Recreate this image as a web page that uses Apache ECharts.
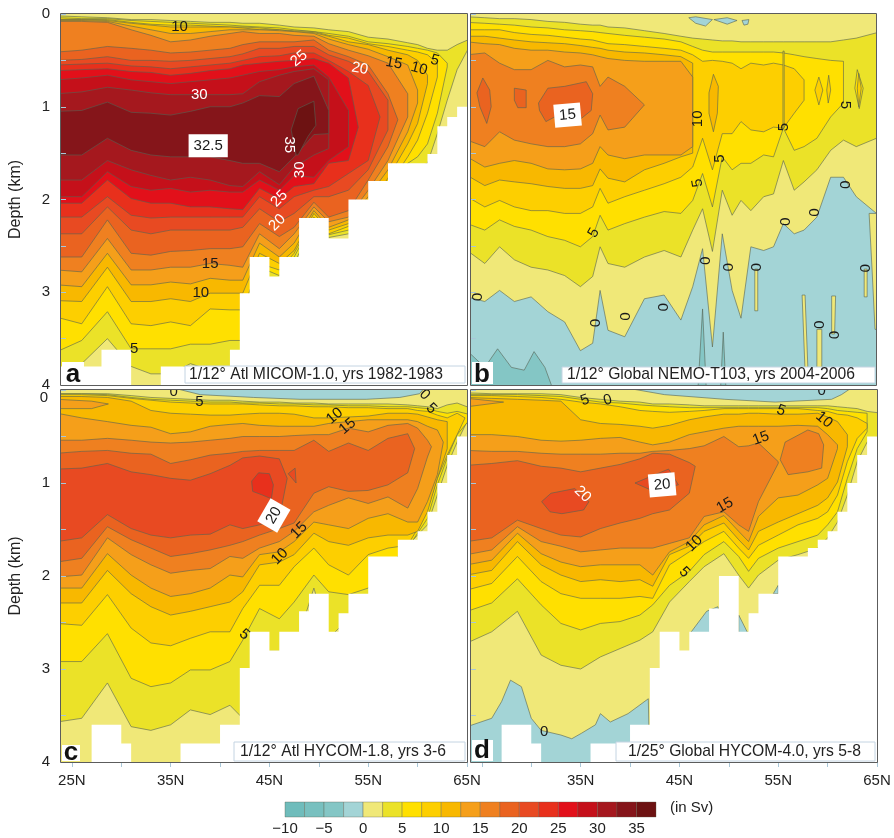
<!DOCTYPE html>
<html><head><meta charset="utf-8">
<style>html,body{margin:0;padding:0;background:#fff}#c{width:894px;height:838px;filter:blur(.35px)}</style>
<script src="https://cdn.jsdelivr.net/npm/echarts@6/dist/echarts.min.js"></script>
</head><body><div id="c"></div>
<script>
// Colour scale steps (Sv)
const barValues=[-10,-7.5,-5,-2.5,0,2.5,5,7.5,10,12.5,15,17.5,20,22.5,25,27.5,30,32.5,35];
const palette=['#6fbcbb','#78c0bf','#84c6c5','#a3d4d6','#f0e878','#ebe228','#ffe000','#fdcf00','#f8b800','#f59f1a','#ef8020','#ea6320','#e84a22','#e8301c','#e2101a','#c5101a','#a5181e','#85151a','#6d1212'];
const latTicks=[25,30,35,40,45,50,55,60,65];
const latLabelsLeft=[25,35,45,55,65];
const latLabelsRight=[35,45,55,65];

// Contours: [level, upper depth per latitude, lower depth per latitude, optional tip [lat,depth]]
const latsA=[23.5,26,28.6,31,33,35,37,39,41,42.3,44,46,47.5,49.5,51,53,55,57,59,60,61,62,63,64,65.5];
const contoursA=[
[2.5,[.02,.03,.04,.06,.06,.07,.08,.09,.09,.10,.10,.12,.14,.15,.17,.19,.25,.27,.31,.33,.37,.39,.39,.33,.26],[3.84,3.77,3.50,3.80,3.88,3.88,3.77,3.84,3.88,3.88,2.83,2.9,2.69,2.26,2.41,2.37,2.30,2.04,1.72,1.65,1.61,1.29,.93,.6,.30]],
[5,[.04,.05,.05,.07,.08,.09,.10,.11,.12,.13,.14,.15,.17,.19,.21,.24,.30,.32,.35,.37,.39,.42,.53],[3.64,3.52,3.21,3.61,3.61,3.61,3.56,3.56,3.52,3.52,2.73,2.82,2.62,2.22,2.38,2.33,2.22,1.97,1.61,1.54,1.40,1.07,.57]],
[7.5,[.06,.06,.06,.09,.11,.12,.12,.13,.14,.14,.15,.17,.18,.19,.23,.26,.32,.35,.39,.41,.44,.53],[3.27,3.34,2.94,3.34,3.36,3.32,3.36,3.18,3.19,3.19,2.69,2.76,2.58,2.19,2.37,2.29,2.15,1.86,1.54,1.36,1.07,.68]],
[10,[.06,.06,.07,.10,.12,.14,.14,.14,.14,.15,.17,.17,.19,.20,.24,.30,.33,.39,.44,.50,.66],[3.09,3.10,2.73,3.10,3.10,3.07,3.10,3.01,3.01,3.01,2.58,2.69,2.55,2.15,2.33,2.26,2.08,1.77,1.40,1.18,.75]],
[12.5,[.07,.07,.08,.13,.17,.21,.21,.19,.17,.17,.17,.18,.19,.21,.27,.33,.38,.46,.55,.82],[2.92,2.94,2.58,2.92,2.92,2.89,2.91,2.85,2.87,2.87,2.47,2.62,2.47,2.12,2.30,2.22,1.97,1.68,1.27,.96]],
[15,[.08,.08,.09,.17,.23,.30,.28,.24,.21,.19,.21,.21,.23,.24,.32,.39,.45,.53,.86],[2.76,2.78,2.42,2.76,2.76,2.73,2.73,2.69,2.71,2.73,2.37,2.53,2.37,2.08,2.24,2.19,1.90,1.58,1.11]],
[17.5,[.41,.39,.35,.37,.39,.42,.41,.39,.37,.33,.30,.30,.30,.28,.39,.46,.55,.86],[2.62,2.62,2.22,2.58,2.60,2.56,2.55,2.53,2.53,2.51,2.26,2.40,2.30,2.03,2.19,2.12,1.79,1.43],[58,1.14]],
[20,[.50,.49,.46,.50,.50,.51,.50,.48,.46,.43,.37,.37,.35,.35,.44,.51,.62,.93],[2.37,2.37,2.08,2.33,2.37,2.33,2.33,2.33,2.33,2.30,2.10,2.24,2.15,1.97,1.97,1.90,1.68,1.25]],
[22.5,[.55,.54,.53,.56,.57,.59,.57,.55,.53,.50,.46,.45,.42,.42,.50,.62,.77],[2.19,2.19,1.97,2.17,2.20,2.19,2.19,2.19,2.19,2.19,1.97,2.10,1.97,1.90,1.86,1.72,1.58],[56.2,1.11]],
[25,[.61,.60,.59,.62,.63,.66,.64,.61,.59,.55,.53,.51,.50,.48,.53,.69],[2.04,2.04,1.79,1.99,2.04,2.04,2.08,2.08,2.10,2.11,1.88,1.99,1.86,1.83,1.61,1.58],[54,1.22]],
[27.5,[.71,.69,.66,.71,.73,.75,.73,.71,.69,.66,.62,.60,.57,.55,.68,1.04],[1.97,1.97,1.70,1.86,1.90,1.88,1.92,1.90,1.92,1.92,1.79,1.90,1.74,1.76,1.58,1.43]],
[30,[.86,.84,.79,.82,.85,.87,.87,.87,.87,.86,.73,.66,.62,.59,.71],[1.79,1.79,1.58,1.68,1.74,1.79,1.76,1.79,1.85,1.86,1.70,1.84,1.65,1.52,1.45]],
[32.5,[1.05,1.04,.95,1.06,1.07,1.09,1.05,1.00,1.00,.96,.88,.89,.75,.67,1.04],[1.52,1.52,1.34,1.47,1.52,1.54,1.54,1.54,1.58,1.61,1.61,1.70,1.54,1.30,1.29]]
];
const patchesA=[[35,[47.2,1.25,47.9,1.02,49.5,.94,49.7,1.2,48.9,1.32,47.9,1.52,47.7,1.52,47.2,1.25]]];
const maskA=[[28,3.8],[31,3.62],[34,4],[41,3.8],[42,3.62],[43,3.01],[45,2.62],[46,2.83],[48,2.62],[51,2.2],[53,2.42],[55,2.0],[57,1.8],[61,1.61],[62,1.51],[63,1.21],[64,1.11],[65.5,1.0]];
const labelsA=[[35.9,.14,'10',0,'k'],[48,.48,'25',-40,'w'],[54.15,.59,'20',10,'w'],[57.6,.53,'15',10,'k'],[60.15,.59,'10',15,'k'],[61.75,.50,'5',15,'k'],[37.9,.87,'30',0,'w'],[38.8,1.42,'32.5',0,'b'],[47,1.41,'35',90,'w'],[48.1,1.68,'30',-90,'w'],[46,1.99,'25',-45,'w'],[45.8,2.25,'20',-45,'w'],[39,2.69,'15',0,'k'],[38.05,3.01,'10',0,'k'],[31.3,3.61,'5',0,'k']];

const latsB=[23.5,25.3,26.8,28.3,30,31.7,33.4,35,36.25,37,37.8,39.5,41.5,43.5,45.2,46.4,47.4,48.4,49.4,50.4,51.3,52.3,53.6,54.6,55.6,56.7,57.7,59,60.4,61.7,63,65.5];
const contoursB=[
[0,-.05,[3.05,3.10,2.98,3.10,3.05,3.21,3.32,3.63,3.55,2.98,3.41,3.48,3.07,3.03,3.30,2.94,2.53,3.59,2.37,2.98,3.28,2.51,2.55,2.51,2.26,2.37,2.33,2.19,1.76,1.76,1.97,2.19]],
[2.5,[.03,.04,.05,.05,.06,.08,.09,.11,.12,.12,.14,.15,.18,.21,.24,.26,.27,.28,.29,.29,.30,.30,.30,.30,.30,.30,.30,.30,.30,.28,.26,.19],[2.55,2.69,2.51,2.65,2.73,2.76,2.82,2.94,2.83,2.51,2.69,2.73,2.62,2.55,2.62,2.33,2.10,2.56,1.90,2.17,2.01,2.12,1.97,1.94,1.58,1.90,1.81,1.68,1.47,1.36,1.43,1.32]],
[5,[.09,.10,.11,.12,.14,.15,.17,.18,.19,.20,.21,.23,.25,.27,.30,.35,.39,.41,.41,.41,.41,.41,.41,.41,.42,.44,.46,.48,.50,.51],[2.26,2.33,2.22,2.29,2.33,2.40,2.44,2.51,2.40,2.17,2.33,2.26,2.19,2.13,2.15,2.01,1.72,2.08,1.54,1.68,1.61,1.61,1.52,1.54,1.23,1.47,1.43,1.34,1.11,.96]],
[7.5,[.17,.17,.17,.20,.22,.23,.25,.27,.28,.30,.32,.33,.35,.37,.39,.44,.51,.50,.51,.53,.59,.53,.55,.53,.55,.59,.71],[1.97,2.08,2.01,2.08,2.12,2.12,2.15,2.15,2.08,1.88,2.04,1.97,1.90,1.83,1.76,1.65,1.34,1.68,1.29,1.29,1.16,1.25,1.27,1.22,1.23,1.07,.93]],
[10,[.24,.24,.26,.28,.30,.31,.32,.34,.36,.37,.39,.41,.42,.44,.46,.53],[1.74,1.85,1.79,1.81,1.83,1.86,1.88,1.88,1.85,1.67,1.77,1.81,1.68,1.61,1.54,1.50]],
[12.5,[.30,.32,.33,.37,.39,.39,.41,.42,.44,.46,.48,.50,.51,.51,.51,.68],[1.54,1.65,1.61,1.58,1.61,1.67,1.68,1.67,1.61,1.43,1.52,1.56,1.52,1.52,1.52,1.43]],
[15,[.44,.42,.53,.60,.60,.50,.57,.55,.57,.78,.68,.78,.98],[1.36,1.43,1.27,1.36,1.40,1.43,1.43,1.40,1.29,1.09,1.25,1.22,.98]]
];
const patchesB=[
[10,[48.05,.85,48.5,.65,49,.78,48.9,1.07,48.5,1.27,48.05,1.07]],
[7.5,[58.8,.82,59.2,.68,59.6,.82,59.2,.98]],
[7.5,[60,.82,60.2,.66,60.4,.82,60.15,.96]],
[5,[62.85,.80,63.1,.6,63.7,.80,63.3,1.02]],
[7.5,[63.1,.80,63.25,.64,63.5,.80,63.25,1.0]],
[5,[55.56,.40,55.68,.40,55.68,1.23,55.56,1.23]],
[17.5,[25.1,.69,25.8,.82,25.95,1.0,25.5,1.18,24.8,1.0,24.5,.85]],
[17.5,[28.3,.80,29.5,.82,29.5,1.01,28.65,1.01,28.3,.93]],
[17.5,[30.75,.96,31.7,.80,33.4,.78,35.6,.73,36.25,.86,36.1,1.04,35.05,1.13,32.4,1.11,31.5,1.16,30.85,1.04]],
[-2.5,[46,.04,46.7,.03,48.4,.06,47.7,.13,46.7,.10]],
[-2.5,[48.55,.06,49.9,.04,50.9,.07,49.9,.11]],
[-2.5,[51.4,.07,52.1,.06,52,.11,51.6,.12]],
[0,[52.7,2.75,53,2.75,53,3.2,52.7,3.2]],
[0,[63.8,2.75,64.1,2.75,64.1,3.05,63.8,3.05]],
[0,[57.5,3.03,57.8,3.03,58.1,3.85,57.8,3.85]],
[0,[59,3.4,59.5,3.4,59.5,3.85,59,3.85]],
[0,[60.5,3.04,60.9,3.04,60.8,3.45,60.5,3.45]],
[0,[64.3,2.15,65.5,2.15,65.5,3.4,64.9,3.4,64.6,2.75]],
[-5,[23.5,3.63,25.3,3.81,26.6,3.61,28,3.81,29.3,3.84,30.3,3.64,31.4,3.81,32.4,4.1,23.5,4.1]],
[-5,[46.9,4.1,47.4,3.18,47.8,4.1]],
[-5,[49.2,4.1,49.5,3.43,49.8,4.1]]
];
const labelsB=[[33.7,1.09,'15',-5,'b'],[46.9,1.13,'10',-90,'k'],[46.9,1.82,'5',-100,'k'],[49.2,1.56,'5',-90,'k'],[55.6,1.22,'5',-90,'k'],[61.9,.98,'5',90,'k'],[36.35,2.36,'5',-60,'k'],
[24.4,3.05,'0',90,'k'],[36.4,3.33,'0',90,'k'],[39.45,3.26,'0',90,'k'],[43.3,3.16,'0',90,'k'],[47.55,2.66,'0',90,'k'],[49.85,2.73,'0',90,'k'],[52.7,2.73,'0',90,'k'],[55.65,2.24,'0',90,'k'],[58.6,2.14,'0',90,'k'],[61.8,1.84,'0',90,'k'],[63.75,2.74,'0',90,'k'],[59.1,3.35,'0',90,'k'],[60.7,3.46,'0',90,'k']];

const contoursC=[
[2.5,[.04,.04,.04,.06,.08,.09,.10,.11,.11,.12,.13,.13,.14,.14,.15,.15,.15,.15,.16,.17,.18,.20,.16,.14,.20],[3.57,3.53,3.15,3.62,3.66,3.60,3.44,3.49,3.39,3.53,2.81,2.81,2.81,2.13,2.67,2.46,2.24,1.95,1.67,1.56,1.45,1.13,.81,.56,.23]],
[5,[.04,.04,.05,.08,.10,.11,.12,.13,.13,.14,.14,.15,.15,.16,.16,.17,.17,.18,.18,.19,.20,.23,.25,.23,.27],[2.92,2.92,2.62,3.10,3.19,3.15,3.01,3.01,2.92,2.69,2.35,2.46,2.28,1.99,2.17,2.20,2.13,1.88,1.70,1.54,1.38,1.02,.73,.48,.29]],
[7.5,[.05,.05,.06,.09,.11,.13,.14,.15,.15,.15,.16,.17,.17,.18,.18,.19,.19,.20,.20,.22,.23,.27,.30,.25],[2.51,2.53,2.20,2.56,2.72,2.75,2.67,2.60,2.60,2.35,2.10,2.10,1.90,1.70,1.88,1.99,1.77,1.70,1.67,1.49,1.27,.95,.70,.48],[64.8,.30]],
[10,[.07,.07,.08,.12,.22,.25,.26,.27,.27,.26,.25,.25,.26,.30,.30,.29,.28,.25,.25,.26,.29,.32,.34],[2.29,2.29,1.94,2.19,2.33,2.42,2.38,2.33,2.28,2.17,1.88,1.85,1.77,1.54,1.63,1.67,1.59,1.56,1.56,1.52,1.31,.95,.63]],
[12.5,[.25,.30,.34,.38,.40,.47,.45,.39,.37,.36,.38,.39,.39,.39,.36,.34,.32,.32,.32,.34,.39,.43],[2.13,2.13,1.76,1.99,2.13,2.22,2.19,2.13,1.99,2.01,1.77,1.74,1.63,1.42,1.45,1.49,1.38,1.33,1.42,1.42,1.20,.91],[62.6,.56]],
[15,[.54,.54,.52,.54,.56,.57,.56,.54,.52,.50,.50,.50,.49,.48,.48,.41,.45,.38,.36,.41,.54],[2.01,1.99,1.59,1.77,1.88,1.97,1.94,1.92,1.79,1.81,1.70,1.63,1.52,1.31,1.24,1.16,1.22,1.15,1.27,1.06,.72],[61.4,.61]],
[17.5,[.68,.66,.65,.68,.69,.79,.75,.70,.68,.66,.65,.65,.65,.54,.66,.57,.65,.52,.47],[1.85,1.81,1.47,1.61,1.70,1.79,1.76,1.72,1.67,1.63,1.56,1.49,1.43,1.11,1.04,1.09,1.08,1.02,.89],[59.7,.63]],
[20,[.85,.84,.79,.88,.91,.95,.97,.90,.81,.73,.71,.74],[1.63,1.59,1.34,1.49,1.56,1.59,1.56,1.55,1.45,1.49,1.45,1.38],[46.8,.95]]
];
const patchesC=[
[12.5,[23.5,.10,27,.12,28.7,.15,27,.20,23.5,.20]],
[22.5,[43.2,.98,43.9,.89,45,.90,45.4,1.02,45.2,1.17,44.3,1.13,43.3,1.09]],
[20,[46.9,.90,47.6,.84,47.7,1.0]],
[-2.5,[34.2,-.05,38,.05,43.4,.08,48.1,.10,54.8,.10,58.2,.08,60.2,.04,60.9,-.05]]
];
const maskC=[[27,4],[30,3.6],[31,3.8],[36,4],[40,3.8],[42,3.6],[43,2.99],[45,2.6],[46,2.8],[48,2.6],[49,2.38],[51,2.19],[52,2.6],[53,2.4],[55,2.19],[58,1.79],[60,1.61],[61,1.52],[62,1.31],[63,1.0],[64,.70],[65.5,.5]];
const labelsC=[[35.3,.02,'0',0,'k'],[37.9,.13,'5',0,'k'],[51.6,.28,'10',-40,'k'],[52.9,.39,'15',-40,'k'],[60.7,.05,'0',45,'k'],[61.4,.20,'5',45,'k'],[45.45,1.35,'20',-60,'b'],[48,1.51,'15',-45,'k'],[46.05,1.79,'10',-45,'k'],[42.45,2.63,'5',40,'k']];

const latsD=[23.5,26,28.6,31,33,35,37,39,41,42.3,44,46,47.5,49.5,51,52,53,55,57,59,60,61,62,63,64,65.5];
const contoursD=[
[2.5,[.03,.04,.04,.04,.05,.08,.10,.12,.13,.15,.15,.16,.17,.17,.17,.17,.17,.17,.17,.17,.17,.18,.19,.20,.23,.25],[2.72,2.60,2.38,2.85,2.96,3.00,2.87,2.78,2.69,2.60,2.28,2.06,1.90,1.76,1.99,2.13,1.99,1.83,1.77,1.70,1.59,1.42,1.13,.77,.56,.48]],
[5,[.05,.05,.05,.06,.07,.10,.13,.14,.16,.17,.18,.19,.19,.19,.19,.19,.19,.19,.19,.19,.20,.22,.23,.24,.25],[2.38,2.29,2.03,2.31,2.51,2.58,2.51,2.49,2.42,2.31,2.10,1.95,1.77,1.63,1.79,1.95,1.81,1.70,1.63,1.56,1.45,1.31,.95,.63,.45]],
[7.5,[.06,.06,.07,.08,.10,.13,.15,.18,.22,.23,.24,.23,.22,.20,.20,.20,.20,.20,.20,.22,.23,.26,.27,.30,.36],[2.15,2.08,1.79,2.06,2.19,2.24,2.24,2.24,2.22,2.24,1.88,1.74,1.63,1.52,1.70,1.81,1.67,1.56,1.45,1.38,1.31,1.13,.77,.52,.41]],
[10,[.08,.09,.10,.11,.12,.32,.36,.37,.39,.41,.38,.32,.29,.26,.26,.25,.25,.26,.26,.25,.29,.34,.48],[1.99,1.94,1.63,1.88,1.99,2.06,2.04,2.06,2.04,2.11,1.77,1.68,1.52,1.43,1.61,1.72,1.52,1.42,1.33,1.24,1.16,.99,.61]],
[12.5,[.48,.48,.50,.54,.55,.54,.52,.51,.56,.59,.56,.48,.45,.41,.39,.39,.39,.39,.38,.39,.48,.59],[1.88,1.83,1.54,1.76,1.85,1.90,1.88,1.88,1.88,1.99,1.74,1.63,1.45,1.35,1.52,1.63,1.36,1.16,1.13,1.02,.95,.63]],
[15,[.65,.66,.66,.68,.69,.69,.69,.68,.68,.66,.65,.63,.60,.50,.61,.60,.57,.77],[1.77,1.72,1.47,1.63,1.68,1.74,1.72,1.70,1.70,1.70,1.65,1.59,1.36,1.31,1.45,1.52,1.20,.79]],
[17.5,[.81,.79,.76,.82,.84,.88,.84,.80,.74,.68,.69,.78],[1.63,1.59,1.40,1.49,1.56,1.58,1.49,1.43,1.38,1.33,1.29,1.11],[46.6,.82]]
];
const patchesD=[
[12.5,[23.5,.09,27.2,.13,23.5,.18]],
[15,[55.2,.75,55.7,.56,58,.43,59.1,.47,59.6,.59,59.4,.84,58,.88,56,.91]],
[20,[31.05,1.2,32,1.11,34.4,1.06,35.85,1.2,35.3,1.29,33.1,1.33,31.9,1.31]],
[20,[40.5,1.0,43.9,.85,44.9,1.02,42.2,1.08]],
[-2.5,[23.5,3.62,26,3.53,27,3.35,27.9,3.12,29,3.19,30,3.53,31,3.66,33,3.71,34.1,3.75,35.1,3.69,36.5,3.6,37,3.48,38,3.57,39.8,3.48,41.85,3.32,42,4.1,23.5,4.1]],
[-2.5,[46.2,2.6,47.75,2.38,48.9,2.33,49,2.4,49,2.7,46.2,2.7]],
[-2.5,[51,2.42,51.95,2.62,51,2.62]],
[-2.5,[54.5,2.19,55,2.1,55,2.19]],
[-2.5,[38.1,-.05,43.5,.05,49.6,.10,54.7,.13,60.4,.10,61.4,.05,62.8,-.05]]
];
const maskD=[[27,4],[30,3.6],[31,3.8],[36,4],[40,3.8],[42,3.6],[43,2.99],[45,2.6],[46,2.8],[48,2.6],[49,2.35],[51,2.0],[52,2.6],[53,2.4],[55,2.19],[58,1.79],[59,1.70],[60,1.61],[61,1.52],[62,1.31],[63,1.0],[64,.70],[65.5,.5]];
const labelsD=[[35.45,.11,'5',-20,'k'],[37.75,.11,'0',-15,'k'],[59.4,.01,'0',0,'k'],[55.3,.22,'5',20,'k'],[59.65,.32,'10',40,'k'],[53.25,.52,'15',-20,'k'],[35.2,1.12,'20',45,'w'],[43.25,1.02,'20',-5,'b'],[49.6,1.24,'15',-30,'k'],[46.5,1.65,'10',-45,'k'],[45.5,1.96,'5',45,'k'],[31.3,3.68,'0',0,'k']];

const FONT='"Liberation Sans",Arial,sans-serif';
const colorOf=l=>palette[barValues.indexOf(l)];
function polysOf(lats,contours,patches,mask){
  const out=[];
  contours.forEach(([level,tops,bots,tip])=>{
    const pts=[];
    bots.forEach((_,i)=>pts.push([lats[i],typeof tops==='number'?tops:tops[i]]));
    if(tip)pts.push(tip);
    for(let i=bots.length-1;i>=0;i--)pts.push([lats[i],bots[i]]);
    out.push({fill:colorOf(level),pts});
  });
  patches.forEach(([level,flat])=>{
    const pts=[];for(let i=0;i<flat.length;i+=2)pts.push([flat[i],flat[i+1]]);
    out.push({fill:colorOf(level),pts});
  });
  if(mask){
    const pts=[[23,4.3]];let from=23;
    mask.forEach(([to,d])=>{pts.push([from,d],[to,d]);from=to;});
    pts.push([from,4.3]);
    out.push({fill:'#fff',noStroke:true,pts});
  }
  return out;
}
const panels=[
 {grid:{left:61,top:14,width:406,height:371},base:colorOf(0),polys:polysOf(latsA,contoursA,patchesA,maskA),labels:labelsA,leftLabels:true,bottom:false,xl:latLabelsLeft},
 {grid:{left:471,top:14,width:405,height:371},base:colorOf(-2.5),polys:polysOf(latsB,contoursB,patchesB,null),labels:labelsB,leftLabels:false,bottom:false,xl:latLabelsRight},
 {grid:{left:61,top:390,width:406,height:372},base:colorOf(0),polys:polysOf(latsA,contoursC,patchesC,maskC),labels:labelsC,leftLabels:true,bottom:true,hideZero:true,xl:latLabelsLeft},
 {grid:{left:471,top:390,width:406,height:372},base:colorOf(0),polys:polysOf(latsD,contoursD,patchesD,maskD),labels:labelsD,leftLabels:false,bottom:true,xl:latLabelsRight}
];
const tickCol='#a9c7d8';
const grids=[],xAxes=[],yAxes=[],series=[];
panels.forEach((p,k)=>{
  grids.push(Object.assign({show:true,backgroundColor:p.base,borderWidth:0},p.grid));
  xAxes.push({type:'value',gridIndex:k,min:23.9,max:65,position:'bottom',z:3,splitLine:{show:false},
    axisLine:{show:false,onZero:false},
    axisTick:{show:p.bottom,length:5,lineStyle:{color:tickCol},customValues:latTicks},
    axisLabel:{show:p.bottom,customValues:p.xl,formatter:v=>v+'N',fontFamily:FONT,fontSize:15,color:'#222',margin:11}});
  yAxes.push({type:'value',gridIndex:k,min:0,max:4,inverse:true,interval:.5,z:3,splitLine:{show:false},
    axisLine:{show:false,onZero:false},
    axisTick:{show:true,inside:true,length:5,lineStyle:{color:tickCol}},
    name:p.leftLabels?'Depth (km)':'',nameLocation:'middle',nameRotate:90,nameGap:37,
    nameTextStyle:{fontFamily:FONT,fontSize:16,color:'#222'},
    axisLabel:{show:p.leftLabels,fontFamily:FONT,fontSize:15,color:'#222',margin:11,
      formatter:v=>(Number.isInteger(v)&&!(p.hideZero&&v===0))?String(v):''}});
  series.push({type:'custom',xAxisIndex:k,yAxisIndex:k,clip:true,z:2,silent:true,
    data:p.polys.map((q,i)=>[q.pts[0][0],q.pts[0][1],i]),
    renderItem:(params,api)=>{
      const q=p.polys[params.dataIndex];
      return {type:'polygon',shape:{points:q.pts.map(pt=>api.coord(pt))},
        style:{fill:q.fill,stroke:q.noStroke?null:'rgba(85,98,84,.6)',lineWidth:1}};
    }});
  series.push({type:'custom',xAxisIndex:k,yAxisIndex:k,clip:true,z:4,silent:true,
    data:p.labels.map(l=>[l[0],l[1]]),
    renderItem:(params,api)=>{
      const l=p.labels[params.dataIndex];const c=api.coord([l[0],l[1]]);
      const box=l[4]==='b';
      return {type:'text',x:c[0],y:c[1],rotation:-l[3]*Math.PI/180,
        style:{text:l[2],align:'center',verticalAlign:'middle',fontFamily:FONT,fontSize:15,
          fill:l[4]==='w'?'#fff':'#1a1a1a',backgroundColor:box?'#fff':undefined,padding:box?[4,5]:0}};
    }});
});
// colour bar
grids.push({left:285,top:802,width:371,height:15});
xAxes.push({type:'value',gridIndex:4,min:-10,max:37.5,interval:5,splitLine:{show:false},axisLine:{show:false,onZero:false},axisTick:{show:false},
  axisLabel:{showMaxLabel:false,margin:4,fontFamily:FONT,fontSize:15,color:'#222',formatter:v=>String(v).replace('-','\u2212')}});
yAxes.push({type:'value',gridIndex:4,min:0,max:1,show:false});
series.push({type:'custom',xAxisIndex:4,yAxisIndex:4,silent:true,clip:false,
  data:barValues.map((v,i)=>[v,i]),
  renderItem:(params,api)=>{
    const v=barValues[params.dataIndex];
    const a=api.coord([v,1]),b=api.coord([v+2.5,0]);
    return {type:'rect',shape:{x:a[0],y:a[1],width:b[0]-a[0],height:b[1]-a[1]},
      style:{fill:palette[params.dataIndex],stroke:'rgba(90,90,70,.35)',lineWidth:1}};
  }});

function txt(x,y,text,size){return {type:'text',z:20,style:{x,y,text,fontFamily:FONT,fontSize:size,fill:'#222',align:'left',verticalAlign:'middle'}};}
const graphics=[];
panels.forEach(p=>graphics.push({type:'rect',z:10,shape:{x:p.grid.left-.5,y:p.grid.top-.5,width:p.grid.width+1,height:p.grid.height+1},style:{fill:'none',stroke:'#5c5c5c',lineWidth:1}}));
[[185,366,280,17,189,375,'1/12\u00b0 Atl MICOM-1.0, yrs 1982-1983'],
 [562,367,313,16,567,375,'1/12\u00b0 Global NEMO-T103, yrs 2004-2006'],
 [234,742,231,19,240,752,'1/12\u00b0 Atl HYCOM-1.8, yrs 3-6'],
 [616,742,259,19,628,752,'1/25\u00b0 Global HYCOM-4.0, yrs 5-8']].forEach(b=>{
  graphics.push({type:'rect',z:11,shape:{x:b[0],y:b[1],width:b[2],height:b[3]},style:{fill:'#fff',stroke:'#c4d4e2',lineWidth:1}});
  graphics.push(txt(b[4],b[5],b[6],15.7));
});
[[62,362,22,22,73,375,'a'],[472,362,21,22,482,375,'b'],[62,745,18,16,71,753,'c'],[472,740,21,21,482,751,'d']].forEach(b=>{
  graphics.push({type:'rect',z:11,shape:{x:b[0],y:b[1],width:b[2],height:b[3]},style:{fill:'#fff'}});
  graphics.push({type:'text',z:21,style:{x:b[4],y:b[5],text:b[6],fontFamily:FONT,fontSize:26,fontWeight:'bold',fill:'#111',align:'center',verticalAlign:'middle'}});
});
graphics.push(txt(670,808,'(in Sv)',15));
graphics.push({type:'text',z:20,style:{x:44,y:398,text:'0',fontFamily:FONT,fontSize:15,fill:'#222',align:'center',verticalAlign:'middle'}});

const chart=echarts.init(document.getElementById('c'),null,{renderer:'canvas'});
chart.setOption({animation:false,backgroundColor:'#fff',grid:grids,xAxis:xAxes,yAxis:yAxes,series,graphic:{elements:graphics}});
</script></body></html>
